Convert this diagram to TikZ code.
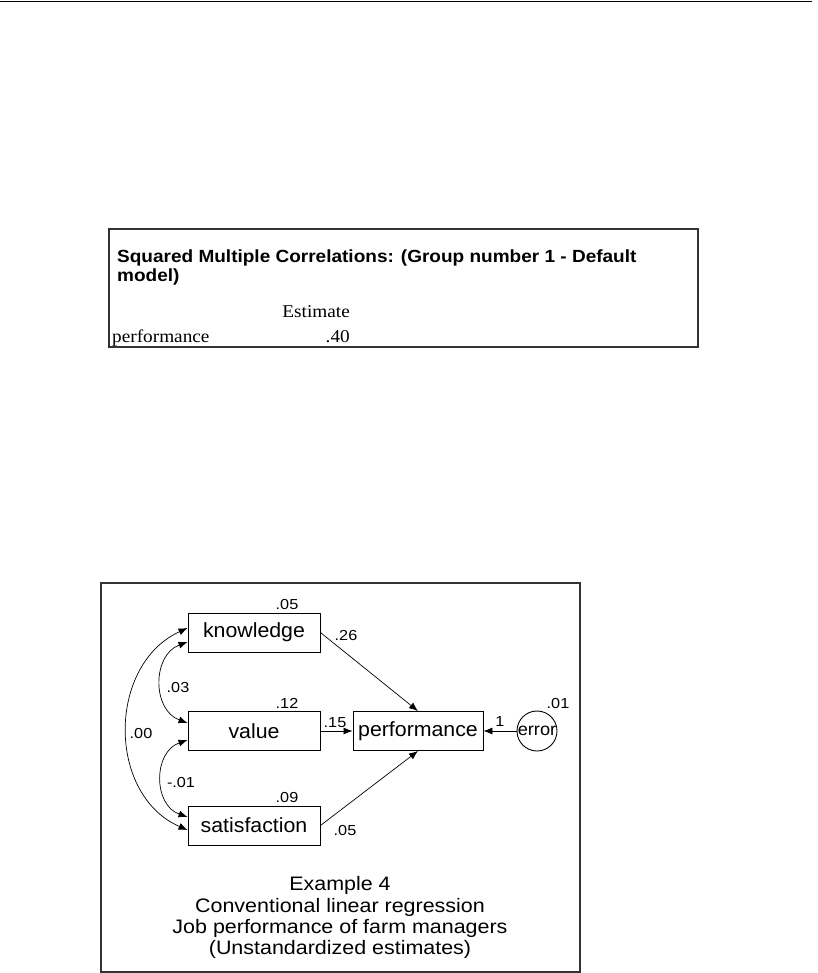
\documentclass[tikz,border=0pt]{standalone}
\usepackage{fontspec}
\usetikzlibrary{arrows.meta}
\newfontfamily\amosbox[FakeStretch=1.04]{Liberation Sans}
\newfontfamily\amoscap[FakeStretch=1.1]{Liberation Sans}
\newfontfamily\amosnum[FakeStretch=1.12]{Liberation Sans}
\newfontfamily\tabbold[FakeStretch=1.08]{Liberation Sans Bold}
\newfontfamily\tabserif[FakeStretch=1.07]{Liberation Serif}
\tikzset{
  varbox/.style={draw=black, line width=0.9pt, minimum width=132pt, minimum height=39pt, inner sep=0pt,
    font=\amosbox\fontsize{20.5}{22}\selectfont},
  errcirc/.style={draw=black, line width=0.9pt, circle, minimum size=40pt, inner sep=0pt,
    font=\amosbox\fontsize{17.5}{19}\selectfont},
  numlab/.style={inner sep=0pt, anchor=base, font=\amosnum\fontsize{14.5}{16}\selectfont},
  captxt/.style={inner sep=0pt, anchor=base, font=\amoscap\fontsize{19.5}{21}\selectfont},
  tabtitle/.style={inner sep=0pt, anchor=base west, font=\tabbold\fontsize{17.6}{19}\selectfont},
  tabtxt/.style={inner sep=0pt, font=\tabserif\fontsize{18}{19}\selectfont},
  frame/.style={draw=black!80, line width=1.3pt},
  tip/.tip={Latex[length=9pt,width=7pt]},
  path/.style={draw=black, line width=0.7pt, -tip},
  cov/.style={draw=black, line width=0.7pt, tip-tip},
}
\begin{document}
\begin{tikzpicture}[x=1pt,y=-1pt]
\useasboundingbox (0,0) rectangle (817,973);
\fill[white] (0,0) rectangle (817,973);
% top rule
\draw[line width=1.8pt] (0,1.5) -- (812,1.5);

% table
\draw[frame] (109,229) rectangle (698,347);
\node[tabtitle] (t1) at (117,262) {Squared Multiple Correlations: (Group number 1 - Default};
\node[tabtitle] (t2) at (117,282) {model)};
\node[tabtxt, anchor=base east] (est) at (350,317) {Estimate};
\node[tabtxt, anchor=base west] (perf) at (112,342) {performance};
\node[tabtxt, anchor=base east] (v40) at (350,342) {.40};

% diagram frame
\draw[frame] (101,583) rectangle (580,972);

% variables
\node[varbox] (k) at (254,632.5) {knowledge};
\node[varbox] (v) at (254,731) {value};
\node[varbox] (s) at (254,825.5) {satisfaction};
\node[varbox, minimum width=130pt] (p) at (418,731) {performance};
\node[errcirc] (e) at (537,731) {error};

% variance labels
\node[numlab] (l05) at (287,609) {.05};
\node[numlab] (l12) at (287,708) {.12};
\node[numlab] (l09) at (287,802) {.09};
\node[numlab] (l01) at (558,708) {.01};

% regression paths
\draw[path] (k.east) -- (p.north);
\draw[path] (v.east) -- (p.west);
\draw[path] (s.east) -- (p.south);
\draw[path] (e.west) -- (p.east);

\node[numlab] (w26) at (346,640) {.26};
\node[numlab] (w15) at (335,727) {.15};
\node[numlab] (w05) at (345,835) {.05};
\node[numlab] (w1) at (500,726) {1};

% covariances
\draw[cov] ([yshift=-9.5pt]k.west) .. controls (152,655) and (152,710) .. ([yshift=8pt]v.west);
\draw[cov] ([yshift=4.5pt]k.west) .. controls (107,665) and (107,795) .. ([yshift=-4.5pt]s.west);
\draw[cov] ([yshift=-9pt]v.west) .. controls (153,752) and (153,805) .. ([yshift=8.5pt]s.west);

\node[numlab] (c03) at (178,692) {.03};
\node[numlab] (c00) at (141,738) {.00};
\node[numlab] (c01) at (181,787) {-.01};

% caption
\node[captxt] (cap1) at (340,890) {Example 4};
\node[captxt] (cap2) at (340,912) {Conventional linear regression};
\node[captxt] (cap3) at (340,933) {Job performance of farm managers};
\node[captxt] (cap4) at (340,954) {(Unstandardized estimates)};
\end{tikzpicture}
\end{document}
